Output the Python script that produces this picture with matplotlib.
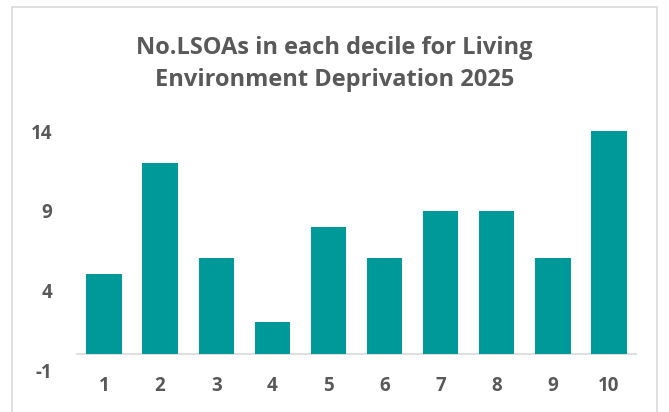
import matplotlib
matplotlib.use('Agg')
from matplotlib import pyplot as plt
from matplotlib.patches import Rectangle

deciles = ['1', '2', '3', '4', '5', '6', '7', '8', '9', '10']
counts = [5, 12, 6, 2, 8, 6, 9, 9, 6, 14]
yticks = [-1, 4, 9, 14]

plt.rcParams['font.family'] = ['Open Sans', 'DejaVu Sans']
grey = '#595959'

fig = plt.figure(figsize=(6.69, 4.12), dpi=100)
ax = fig.add_axes([76/669, (412-370)/412, (637-76)/669, (370-131)/412])

ax.bar(range(len(deciles)), counts, width=0.63, color='#009999')
ax.axhline(0, color='#d9d9d9', lw=1.2, zorder=0)

ax.set_xlim(-0.5, len(deciles) - 0.5)
ax.set_ylim(-1, 14)
ax.set_yticks(yticks)
ax.set_yticklabels([str(t) for t in yticks])
ax.set_xticks(range(len(deciles)))
ax.set_xticklabels(deciles)
ax.tick_params(axis='both', length=0, labelsize=13.5, labelcolor=grey)
ax.tick_params(axis='y', pad=17)
ax.tick_params(axis='x', pad=4)
for lab in ax.get_xticklabels() + ax.get_yticklabels():
    lab.set_fontweight('bold')
for s in ax.spines.values():
    s.set_visible(False)

fig.text(0.5, (412-64)/412, 'No.LSOAs in each decile for Living\nEnvironment Deprivation 2025',
         ha='center', va='center', fontsize=17, fontweight='bold', color=grey,
         linespacing=1.4)

fig.patches.append(Rectangle((12/669, -0.05), (657-12)/669, 1.05 - 7/412,
                             transform=fig.transFigure, fill=False,
                             edgecolor='#d9d9d9', lw=1.2))

fig.savefig('out.png', dpi=100)
